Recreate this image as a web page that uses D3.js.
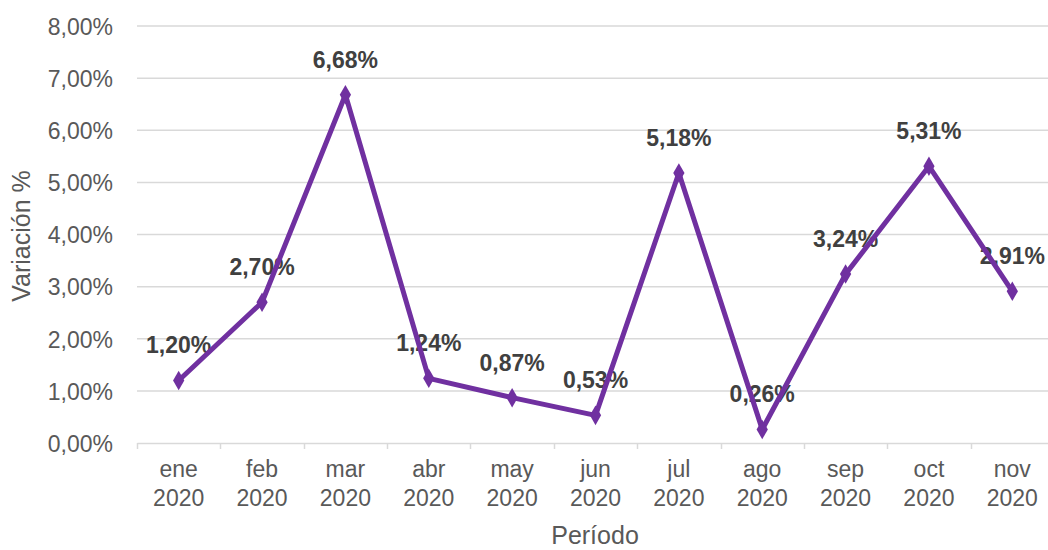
<!DOCTYPE html>
<html>
<head>
<meta charset="utf-8">
<script src="https://cdn.jsdelivr.net/npm/d3@7"></script>
<style>
  html, body { margin: 0; padding: 0; background: #fff; }
  svg { display: block; font-family: "Liberation Sans", Arial, sans-serif; }
</style>
</head>
<body>
<svg id="chart"></svg>
<script>
const months = ['ene', 'feb', 'mar', 'abr', 'may', 'jun', 'jul', 'ago', 'sep', 'oct', 'nov'],
	years = ['2020', '2020', '2020', '2020', '2020', '2020', '2020', '2020', '2020', '2020', '2020'],
	variacion = [1.20, 2.70, 6.68, 1.24, 0.87, 0.53, 5.18, 0.26, 3.24, 5.31, 2.91],
	yTicks = [0, 1, 2, 3, 4, 5, 6, 7, 8];

const width = 1048,
	height = 550,
	margin = { left: 137, right: -6, top: 26, bottom: 107 };

const LINE_COLOR = '#7030a0',
	GRID_COLOR = '#d9d9d9',
	TEXT_COLOR = '#595959',
	LABEL_COLOR = '#404040';

const locale = d3.formatLocale({ decimal: ',', thousands: '.', grouping: [3], currency: ['', '€'] }),
	pct = v => locale.format('.2f')(v) + '%';

const svg = d3.select('svg#chart')
	.attr('width', width)
	.attr('height', height);

const data = months.map((m, i) => ({ key: m + ' ' + years[i], month: m, year: years[i], value: variacion[i] }));

const x = d3.scaleBand()
	.domain(data.map(d => d.key))
	.range([margin.left, width - margin.right])
	.padding(0);

const y = d3.scaleLinear()
	.domain([0, 8])
	.range([height - margin.bottom, margin.top]);

// gridlines
svg.append('g')
	.selectAll('line')
	.data(yTicks.filter(t => t > 0))
	.join('line')
	.attr('x1', margin.left)
	.attr('x2', width - margin.right)
	.attr('y1', d => y(d))
	.attr('y2', d => y(d))
	.attr('stroke', GRID_COLOR)
	.attr('stroke-width', 1.5);

// y axis labels
const yAxis = svg.append('g')
	.attr('transform', `translate(${margin.left - 24},0)`)
	.call(d3.axisLeft(y).tickValues(yTicks).tickSize(0).tickPadding(0).tickFormat(pct));
yAxis.select('.domain').remove();
yAxis.selectAll('text')
	.attr('font-size', 23)
	.attr('font-family', '"Liberation Sans", Arial, sans-serif')
	.attr('fill', TEXT_COLOR)
	.attr('dy', '0.36em');

// x axis
const xAxis = svg.append('g')
	.attr('transform', `translate(0,${y(0)})`)
	.call(d3.axisBottom(x).tickSize(0).tickFormat(''));
xAxis.select('.domain')
	.attr('stroke', GRID_COLOR)
	.attr('stroke-width', 1.5);

// tick marks on band boundaries
svg.append('g')
	.selectAll('line')
	.data(data)
	.join('line')
	.attr('x1', d => Math.round(x(d.key)) + 0.5)
	.attr('x2', d => Math.round(x(d.key)) + 0.5)
	.attr('y1', y(0))
	.attr('y2', y(0) + 6)
	.attr('stroke', GRID_COLOR)
	.attr('stroke-width', 1.5);

const xLabels = svg.append('g')
	.selectAll('text')
	.data(data)
	.join('text')
	.attr('x', d => x(d.key) + x.bandwidth() / 2)
	.attr('y', y(0) + 34)
	.attr('text-anchor', 'middle')
	.attr('font-size', 23)
	.attr('fill', TEXT_COLOR);
xLabels.append('tspan')
	.attr('x', d => x(d.key) + x.bandwidth() / 2)
	.text(d => d.month);
xLabels.append('tspan')
	.attr('x', d => x(d.key) + x.bandwidth() / 2)
	.attr('dy', 29)
	.text(d => d.year);

// axis titles
svg.append('text')
	.attr('transform', `translate(30,236) rotate(-90)`)
	.attr('text-anchor', 'middle')
	.attr('font-size', 25)
	.attr('fill', TEXT_COLOR)
	.text('Variación %');

svg.append('text')
	.attr('x', 595)
	.attr('y', 544)
	.attr('text-anchor', 'middle')
	.attr('font-size', 25)
	.attr('fill', TEXT_COLOR)
	.text('Período');

// data labels (under the line)
svg.append('g')
	.selectAll('text')
	.data(data)
	.join('text')
	.attr('x', d => x(d.key) + x.bandwidth() / 2)
	.attr('y', d => y(d.value) - 27)
	.attr('text-anchor', 'middle')
	.attr('font-size', 23)
	.attr('font-weight', 'bold')
	.attr('fill', LABEL_COLOR)
	.text(d => pct(d.value));

// line
const line = d3.line()
	.x(d => x(d.key) + x.bandwidth() / 2)
	.y(d => y(d.value));

svg.append('path')
	.datum(data)
	.attr('d', line)
	.attr('fill', 'none')
	.attr('stroke', LINE_COLOR)
	.attr('stroke-width', 5)
	.attr('stroke-linejoin', 'round');

// diamond markers
svg.append('g')
	.selectAll('path')
	.data(data)
	.join('path')
	.attr('transform', d => `translate(${x(d.key) + x.bandwidth() / 2},${y(d.value)})`)
	.attr('d', d3.symbol(d3.symbolDiamond, 110))
	.attr('fill', LINE_COLOR);
</script>
</body>
</html>
